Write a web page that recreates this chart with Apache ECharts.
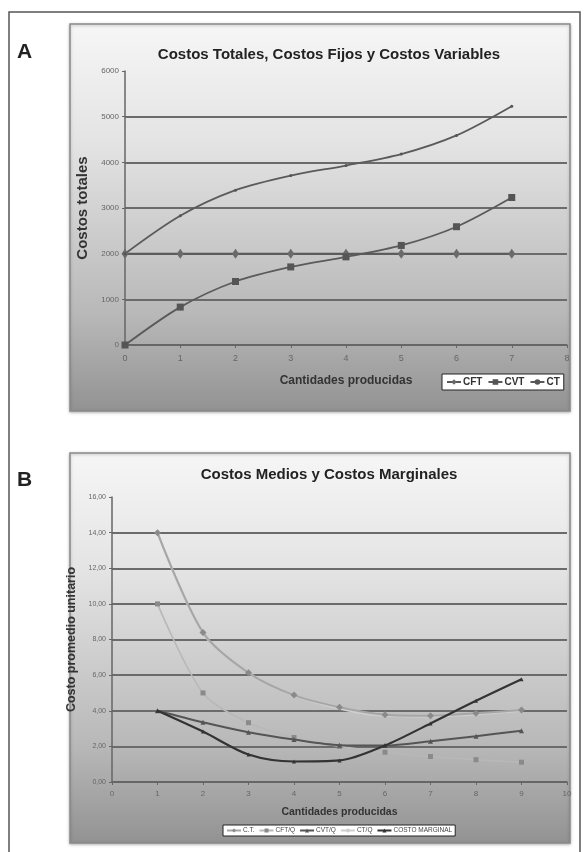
<!DOCTYPE html>
<html>
<head>
<meta charset="utf-8">
<script src="https://cdn.jsdelivr.net/npm/echarts@6/dist/echarts.min.js"></script>
<style>
html,body{margin:0;padding:0;background:#fff;}
#c{width:586px;height:852px;}
</style>
</head>
<body>
<div id="c"></div>
<script>
// ---- Chart A data ----
const qA = [0, 1, 2, 3, 4, 5, 6, 7];
const cft = [2000, 2000, 2000, 2000, 2000, 2000, 2000, 2000];
const cvt = [0, 830, 1390, 1710, 1930, 2180, 2590, 3230];
const ct  = [2000, 2830, 3390, 3710, 3930, 4180, 4590, 5230];
const namesA = ['CFT', 'CVT', 'CT'];

// ---- Chart B data ----
const qB = [1, 2, 3, 4, 5, 6, 7, 8, 9];
const ctB   = [14.00, 8.40, 6.13, 4.88, 4.20, 3.78, 3.72, 3.86, 4.04];
const cftQ  = [10.00, 5.00, 3.33, 2.50, 2.00, 1.67, 1.43, 1.25, 1.11];
const cvtQ  = [4.00, 3.35, 2.79, 2.38, 2.07, 2.05, 2.29, 2.57, 2.88];
const ctQ   = [14.00, 8.35, 6.13, 4.88, 4.12, 3.72, 3.68, 3.80, 4.00];
const cmg   = [4.00, 2.83, 1.54, 1.15, 1.21, 2.05, 3.29, 4.56, 5.77];
const namesB = ['C.T.', 'CFT/Q', 'CVT/Q', 'CT/Q', 'COSTO MARGINAL'];

const pairs = (xs, ys) => xs.map((x, i) => [x, ys[i]]);
const FONT = 'Liberation Sans';

const panelFill = {
  type: 'linear', x: 0, y: 0, x2: 0, y2: 1,
  colorStops: [
    {offset: 0, color: '#f6f6f6'},
    {offset: 0.3, color: '#e4e4e4'},
    {offset: 0.75, color: '#b8b8b8'},
    {offset: 1, color: '#929292'}
  ]
};

function splitColors(n) {
  const arr = [];
  for (let i = 0; i < n; i++) arr.push(i === n - 1 ? 'rgba(0,0,0,0)' : '#6b6b6b');
  return arr;
}

const chart = echarts.init(document.getElementById('c'));
chart.setOption({
  animation: false,
  backgroundColor: '#fff',
  textStyle: {fontFamily: FONT},
  graphic: [
    {type: 'rect', shape: {x: 9, y: 12, width: 571, height: 860},
     style: {fill: 'none', stroke: '#555', lineWidth: 1.5}, z: 0},
    {type: 'rect', shape: {x: 70, y: 24, width: 500, height: 387},
     style: {fill: panelFill, stroke: '#8a8a8a', lineWidth: 1.5,
             shadowBlur: 3, shadowColor: 'rgba(0,0,0,0.25)', shadowOffsetY: 1}, z: 0},
    {type: 'rect', shape: {x: 70, y: 453, width: 500, height: 390},
     style: {fill: panelFill, stroke: '#8a8a8a', lineWidth: 1.5,
             shadowBlur: 3, shadowColor: 'rgba(0,0,0,0.25)', shadowOffsetY: 1}, z: 0},
    {type: 'text', left: 17, top: 42,
     style: {text: 'A', font: 'bold 21px ' + FONT, fill: '#222'}, z: 5},
    {type: 'text', left: 17, top: 470,
     style: {text: 'B', font: 'bold 21px ' + FONT, fill: '#222'}, z: 5}
  ],
  title: [
    {text: 'Costos Totales, Costos Fijos y Costos Variables', left: 324, top: 42, textAlign: 'center',
     textStyle: {fontFamily: FONT, fontSize: 15, fontWeight: 'bold', color: '#222'}},
    {text: 'Costos Medios y Costos Marginales', left: 324, top: 462, textAlign: 'center',
     textStyle: {fontFamily: FONT, fontSize: 15, fontWeight: 'bold', color: '#222'}}
  ],
  legend: [
    {data: namesA, left: 442, top: 374, orient: 'horizontal',
     backgroundColor: '#fff', borderColor: '#222', borderWidth: 1, borderRadius: 0,
     padding: [3, 4], itemGap: 5, itemWidth: 14, itemHeight: 7,
     textStyle: {fontFamily: FONT, fontSize: 10, fontWeight: 'bold', color: '#333', padding: [0, 0, 0, -3]}},
    {data: namesB, left: 223, top: 825, orient: 'horizontal',
     backgroundColor: '#fff', borderColor: '#222', borderWidth: 1, borderRadius: 0,
     padding: [2, 3], itemGap: 4, itemWidth: 14, itemHeight: 5,
     textStyle: {fontFamily: FONT, fontSize: 6.5, color: '#444', padding: [0, 0, 0, -3]}}
  ],
  grid: [
    {left: 125, top: 71, width: 442, height: 274, show: true, backgroundColor: '#fff', borderWidth: 0},
    {left: 112, top: 497, width: 455, height: 285, show: true, backgroundColor: '#fff', borderWidth: 0}
  ],
  xAxis: [
    {type: 'value', gridIndex: 0, min: 0, max: 8, interval: 1,
     name: 'Cantidades producidas', nameLocation: 'middle', nameGap: 30,
     nameTextStyle: {fontFamily: FONT, fontSize: 12, fontWeight: 'bold', color: '#333'},
     axisLine: {lineStyle: {color: '#666', width: 1.5}},
     axisTick: {show: true, length: 3, lineStyle: {color: '#666'}},
     axisLabel: {fontSize: 9, color: '#666', margin: 9},
     splitLine: {show: false}},
    {type: 'value', gridIndex: 1, min: 0, max: 10, interval: 1,
     name: 'Cantidades producidas', nameLocation: 'middle', nameGap: 25,
     nameTextStyle: {fontFamily: FONT, fontSize: 10.5, fontWeight: 'bold', color: '#333'},
     axisLine: {lineStyle: {color: '#666', width: 1.5}},
     axisTick: {show: true, length: 3, lineStyle: {color: '#666'}},
     axisLabel: {fontSize: 8, color: '#666', margin: 8},
     splitLine: {show: false}}
  ],
  yAxis: [
    {type: 'value', gridIndex: 0, min: 0, max: 6000, interval: 1000,
     name: 'Costos totales', nameLocation: 'middle', nameGap: 31, nameRotate: 90,
     nameTextStyle: {fontFamily: FONT, fontSize: 15, fontWeight: 'bold', color: '#333'},
     axisLine: {show: true, lineStyle: {color: '#666', width: 1.5}},
     axisTick: {show: true, length: 3, lineStyle: {color: '#666'}},
     axisLabel: {fontSize: 8, color: '#666', margin: 6, formatter: v => String(v)},
     splitLine: {show: true, lineStyle: {color: splitColors(7), width: 1.8}}},
    {type: 'value', gridIndex: 1, min: 0, max: 16, interval: 2,
     name: 'Costo promedio unitario', nameLocation: 'middle', nameGap: 27, nameRotate: 90,
     nameTextStyle: {fontFamily: FONT, fontSize: 12.5, fontWeight: 'bold', color: '#333'},
     axisLine: {show: true, lineStyle: {color: '#666', width: 1.5}},
     axisTick: {show: true, length: 3, lineStyle: {color: '#666'}},
     axisLabel: {fontSize: 7, color: '#666', margin: 6,
       formatter: v => v.toFixed(2).replace('.', ',')},
     splitLine: {show: true, lineStyle: {color: splitColors(9), width: 1.8}}}
  ],
  series: [
    {name: 'CFT', type: 'line', xAxisIndex: 0, yAxisIndex: 0, data: pairs(qA, cft),
     symbol: 'diamond', symbolSize: [7, 10], z: 3,
     lineStyle: {color: '#5a5a5a', width: 2}, itemStyle: {color: '#6a6a6a'}},
    {name: 'CVT', type: 'line', xAxisIndex: 0, yAxisIndex: 0, data: pairs(qA, cvt),
     symbol: 'rect', symbolSize: 7, smooth: 0.3, z: 3,
     lineStyle: {color: '#5a5a5a', width: 1.8}, itemStyle: {color: '#555'}},
    {name: 'CT', type: 'line', xAxisIndex: 0, yAxisIndex: 0, data: pairs(qA, ct),
     symbol: 'circle', symbolSize: 3, smooth: 0.3, z: 3,
     lineStyle: {color: '#5a5a5a', width: 1.8}, itemStyle: {color: '#555'}},

    {name: 'CT/Q', type: 'line', xAxisIndex: 1, yAxisIndex: 1, data: pairs(qB, ctQ),
     symbol: 'none', smooth: 0.3, z: 2,
     lineStyle: {color: '#cfcfcf', width: 2.2}, itemStyle: {color: '#cfcfcf'}},
    {name: 'C.T.', type: 'line', xAxisIndex: 1, yAxisIndex: 1, data: pairs(qB, ctB),
     symbol: 'diamond', symbolSize: 7, smooth: 0.3, z: 3,
     lineStyle: {color: '#a6a6a6', width: 2}, itemStyle: {color: '#8a8a8a'}},
    {name: 'CFT/Q', type: 'line', xAxisIndex: 1, yAxisIndex: 1, data: pairs(qB, cftQ),
     symbol: 'rect', symbolSize: 5, smooth: 0.3, z: 3,
     lineStyle: {color: '#b8b8b8', width: 1.6}, itemStyle: {color: '#8a8a8a'}},
    {name: 'CVT/Q', type: 'line', xAxisIndex: 1, yAxisIndex: 1, data: pairs(qB, cvtQ),
     symbol: 'triangle', symbolSize: 5, smooth: 0.3, z: 4,
     lineStyle: {color: '#555', width: 2}, itemStyle: {color: '#555'}},
    {name: 'COSTO MARGINAL', type: 'line', xAxisIndex: 1, yAxisIndex: 1, data: pairs(qB, cmg),
     symbol: 'triangle', symbolSize: 4, smooth: 0.3, z: 5,
     lineStyle: {color: '#333', width: 2.2}, itemStyle: {color: '#333'}}
  ]
});
</script>
</body>
</html>
